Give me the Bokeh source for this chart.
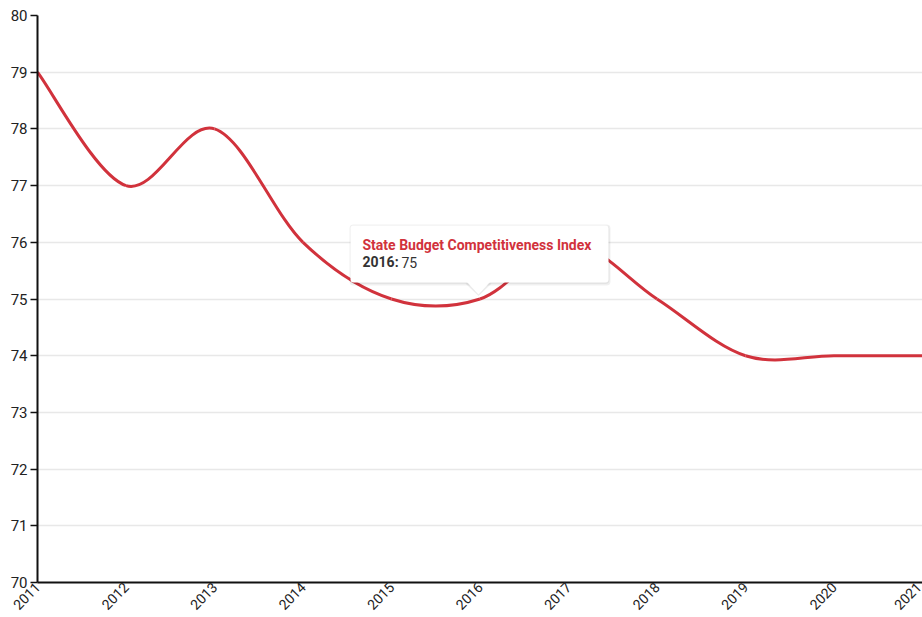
import numpy as np
from bokeh.plotting import figure
from bokeh.models import Range1d, Label, BoxAnnotation, PolyAnnotation, FixedTicker
from bokeh.embed import file_html
from bokeh.resources import INLINE

# ---- data ----
years = [2011, 2012, 2013, 2014, 2015, 2016, 2017, 2018, 2019, 2020, 2021]
index_values = [79, 77, 78, 76, 75, 75, 76, 75, 74, 74, 74]
series_name = "State Budget Competitiveness Index"
y_ticks = [70, 71, 72, 73, 74, 75, 76, 77, 78, 79, 80]
tip_year = 2016
tip_value = 75

LINE_COLOR = "#d1323c"
FONT = "Roboto"

W, H = 922, 617
LEFT, RIGHT, TOP, BOTTOM = 37, 0, 15, 35

p = figure(width=W, height=H, output_backend="svg", toolbar_location=None,
           x_range=Range1d(min(years), max(years)), y_range=Range1d(70, 80),
           min_border_left=LEFT, min_border_right=RIGHT,
           min_border_top=TOP, min_border_bottom=BOTTOM)
p.outline_line_color = None
p.background_fill_color = "white"
p.border_fill_color = "white"

# axes
p.yaxis.ticker = FixedTicker(ticks=y_ticks)
p.xaxis.ticker = FixedTicker(ticks=years)
for ax in (p.xaxis[0], p.yaxis[0]):
    ax.axis_line_color = "#111111"
    ax.axis_line_width = 2
    ax.major_label_text_font = FONT
    ax.major_label_text_font_size = "15px"
    ax.major_label_text_color = "#222222"
    ax.minor_tick_line_color = None
p.yaxis.major_tick_out = 7
p.yaxis.major_tick_in = 0
p.yaxis.major_tick_line_color = "#111111"
p.yaxis.major_tick_line_width = 1.5
p.yaxis.major_label_standoff = 3
p.xaxis.major_tick_out = 0
p.xaxis.major_tick_in = 0
p.xaxis.major_label_orientation = np.pi / 4
p.xaxis.major_label_text_font_size = "14px"
p.xaxis.major_label_standoff = 2

p.xgrid.grid_line_color = None
p.ygrid.grid_line_color = "#e8e8e8"
p.ygrid.grid_line_width = 1.5

# ---- smooth line (cardinal spline through the data, drawn as beziers) ----
xs = np.array(years, dtype=float)
ys = np.array(index_values, dtype=float)
n = len(xs)
x0, y0, x1, y1, cx0, cy0, cx1, cy1 = [], [], [], [], [], [], [], []
for i in range(n - 1):
    im1 = max(i - 1, 0)
    ip2 = min(i + 2, n - 1)
    x0.append(xs[i]); y0.append(ys[i])
    x1.append(xs[i + 1]); y1.append(ys[i + 1])
    cx0.append(xs[i] + (xs[i + 1] - xs[im1]) / 6)
    cy0.append(ys[i] + (ys[i + 1] - ys[im1]) / 6)
    cx1.append(xs[i + 1] - (xs[ip2] - xs[i]) / 6)
    cy1.append(ys[i + 1] - (ys[ip2] - ys[i]) / 6)
p.bezier(x0=x0, y0=y0, x1=x1, y1=y1, cx0=cx0, cy0=cy0, cx1=cx1, cy1=cy1,
         line_color=LINE_COLOR, line_width=3)

# ---- tooltip annotation (pixel geometry converted to data units) ----
fw = W - LEFT - RIGHT
fh = H - TOP - BOTTOM
def px2x(px):
    return min(years) + (px - LEFT) / fw * (max(years) - min(years))
def py2y(py):
    return 80 - (py - TOP) / fh * 10

# shadow
p.add_layout(BoxAnnotation(left=px2x(349), right=px2x(610), top=py2y(224), bottom=py2y(285),
                           fill_color="black", fill_alpha=0.06, line_color=None,
                           border_radius=4, level="overlay"))
p.add_layout(BoxAnnotation(left=px2x(350), right=px2x(609), top=py2y(225), bottom=py2y(283.5),
                           fill_color="black", fill_alpha=0.05, line_color=None,
                           border_radius=4, level="overlay"))
p.add_layout(PolyAnnotation(xs=[px2x(465), px2x(491), px2x(478)],
                            ys=[py2y(283), py2y(283), py2y(295.5)],
                            fill_color="black", fill_alpha=0.08, line_color=None, level="overlay"))
# box
p.add_layout(BoxAnnotation(left=px2x(350), right=px2x(608), top=py2y(225), bottom=py2y(282),
                           fill_color="white", fill_alpha=1, line_color=None,
                           border_radius=3, level="overlay"))
p.add_layout(PolyAnnotation(xs=[px2x(466), px2x(490), px2x(478)],
                            ys=[py2y(281), py2y(281), py2y(294)],
                            fill_color="white", fill_alpha=1, line_color=None, level="overlay"))

p.add_layout(Label(x=px2x(362), y=py2y(244.5), text=series_name,
                   text_font=FONT, text_font_size="14px", text_font_style="bold",
                   text_color=LINE_COLOR, text_baseline="middle", level="overlay"))
p.add_layout(Label(x=px2x(362), y=py2y(261.5), text=f"{tip_year}:",
                   text_font=FONT, text_font_size="14px", text_font_style="bold",
                   text_color="#333333", text_baseline="middle", level="overlay"))
p.add_layout(Label(x=px2x(401), y=py2y(261.5), text=f"{tip_value}",
                   text_font=FONT, text_font_size="14px",
                   text_color="#333333", text_baseline="middle", level="overlay"))

open("out.html", "w").write(file_html(p, INLINE))
